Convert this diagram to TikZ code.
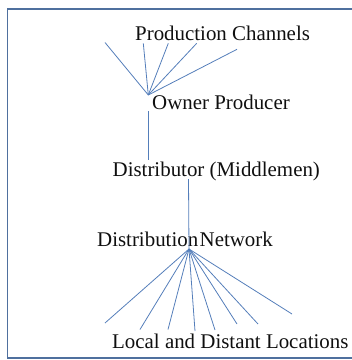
\documentclass[tikz,border=0pt]{standalone}
\usepackage{fontspec}
\setmainfont{Liberation Serif}
\definecolor{framec}{RGB}{79,112,158}
\definecolor{linec}{RGB}{84,126,186}
\definecolor{txtc}{RGB}{15,15,15}
\begin{document}
\begin{tikzpicture}[x=1pt,y=-1pt,
  lbl/.style={anchor=base west,inner sep=0pt,text=txtc,font=\fontsize{20.9}{24}\selectfont},
  conn/.style={draw=linec,line width=0.8pt}]
\useasboundingbox (0,0) rectangle (352,360);
\draw[framec,line width=1.6pt] (353,9) -- (7.5,9) -- (7.5,358) -- (353,358);
% texts
\node[lbl] (pc) at (135,40) {Production Channels};
\node[lbl] (op) at (152,109) {Owner Producer};
\node[lbl] (dm) at (112.5,176) {Distributor (Middlemen)};
\node[lbl] (dn) at (97,246.5) {Distribution\hspace{1.5pt}Network};
\node[lbl] (ll) at (112,348) {Local and Distant Locations};
% anchor points
\coordinate (opA) at (148.3,95);
\coordinate (opB) at (148.3,111);
\coordinate (dmT) at (148.3,160);
\coordinate (dmB) at (188.5,179);
\coordinate (dnA) at (189,249);
% production channel fan
\coordinate (p1) at (105,42.5);
\coordinate (p2) at (143.3,43.3);
\coordinate (p3) at (168.3,43.3);
\coordinate (p4) at (196.7,43.3);
\coordinate (p5) at (237,49.3);
\foreach \p in {p1,p2,p3,p4,p5} \draw[conn] (opA) -- (\p);
% verticals
\draw[conn] (opB) -- (dmT);
\draw[conn] (dmB) -- (dnA);
% locations fan
\coordinate (l1) at (105,323);
\coordinate (l2) at (140,329.5);
\coordinate (l3) at (168,329.5);
\coordinate (l4) at (195,331);
\coordinate (l5) at (215,330);
\coordinate (l6) at (237,324);
\coordinate (l7) at (258,324);
\coordinate (l8) at (292,314);
\foreach \p in {l1,l2,l3,l4,l5,l6,l7,l8} \draw[conn] (dnA) -- (\p);
\end{tikzpicture}
\end{document}
